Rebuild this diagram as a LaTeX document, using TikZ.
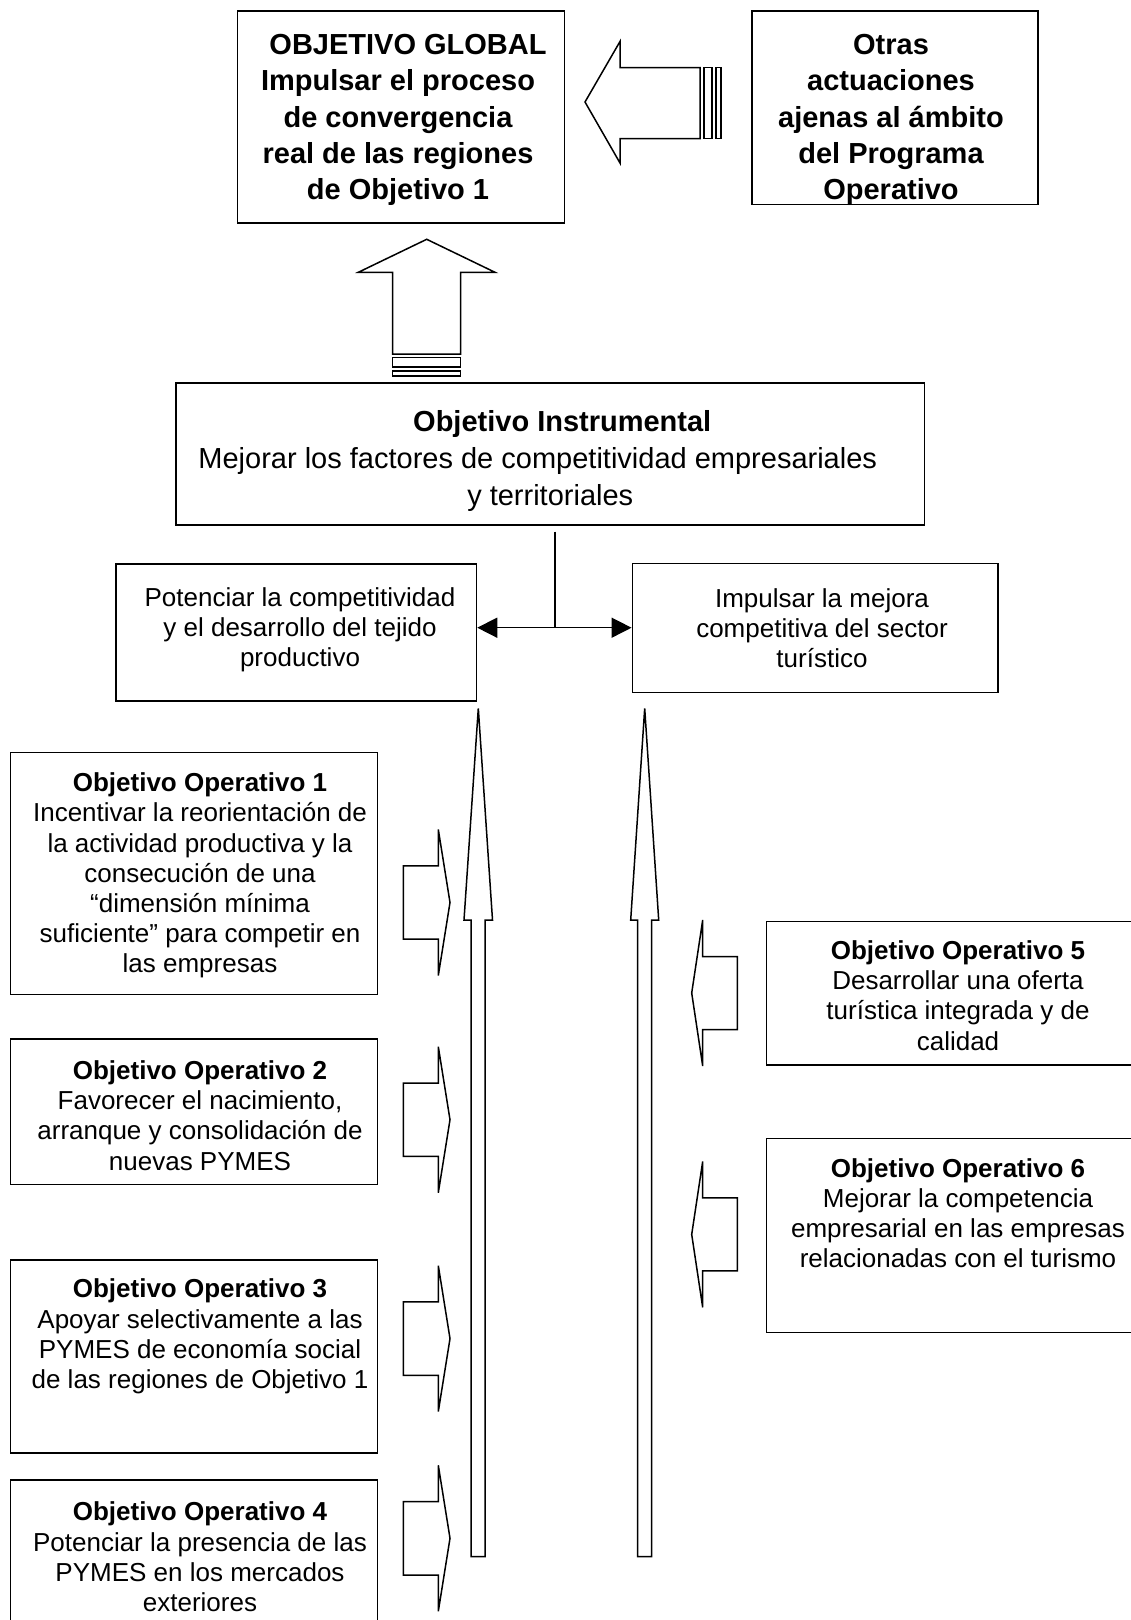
\documentclass[tikz,border=0pt]{standalone}
\usepackage{fontspec}
\setmainfont{Liberation Sans}
\usetikzlibrary{arrows.meta}
\begin{document}
\begin{tikzpicture}[x=1pt,y=-1pt,
  box/.style={draw, line width=1.5pt, inner sep=0pt},
  txt/.style={inner sep=0pt, align=center, font=\fontsize{26}{30.2}\selectfont},
  bigtxt/.style={inner sep=0pt, align=center, font=\fontsize{29}{37}\selectfont},
  boldbig/.style={inner sep=0pt, align=center, font=\fontsize{29}{36.2}\selectfont\bfseries},
  blockarrow/.style={draw, line width=1.5pt},
  hubarrow/.style={-{Triangle[length=20pt,width=20pt]}, line width=1.5pt},
  link/.style={line width=1.5pt},
  rblock/.pic={\draw[blockarrow] (-46.7,-36.7) -- (-11.7,-36.7) -- (-11.7,-73) -- (0,0) -- (-11.7,73) -- (-11.7,36.7) -- (-46.7,36.7) -- cycle;},
  lblock/.pic={\draw[blockarrow] (45.6,-36.5) -- (11,-36.5) -- (11,-73) -- (0,0) -- (11,73) -- (11,36.5) -- (45.6,36.5) -- cycle;}
]
\useasboundingbox (0,0) rectangle (1131,1620);
\fill[white] (0,0) rectangle (1131,1620);
\clip (0,0) rectangle (1131,1620);

% boxes
\node[box, minimum width=327pt, minimum height=212pt] (og) at (401,117) {};
\node[box, minimum width=286pt, minimum height=193.5pt] (otras) at (895,107.75) {};
\node[box, minimum width=748.5pt, minimum height=142pt] (inst) at (550.25,454) {};
\node[box, minimum width=360.5pt, minimum height=137pt] (pot) at (296.25,632.5) {};
\node[box, minimum width=365.7pt, minimum height=129.2pt] (imp) at (815.15,627.9) {};
\node[box, minimum width=367.2pt, minimum height=242.2pt] (op1) at (193.9,873.6) {};
\node[box, minimum width=367.2pt, minimum height=145.7pt] (op2) at (193.9,1111.85) {};
\node[box, minimum width=367.2pt, minimum height=193pt] (op3) at (193.9,1356.5) {};
\node[box, minimum width=367.2pt, minimum height=180pt] (op4) at (193.9,1570) {};
\node[box, minimum width=383.3pt, minimum height=143.3pt] (op5) at (958.35,993.35) {};
\node[box, minimum width=383.3pt, minimum height=194pt] (op6) at (958.35,1235.3) {};

% texts
\node[boldbig] (ogt) at (398,120) {\hspace*{20pt}OBJETIVO GLOBAL\\Impulsar el proceso\\de convergencia\\real de las regiones\\de Objetivo 1};
\node[boldbig] (otrast) at (891,120) {Otras\\actuaciones\\ajenas al ámbito\\del Programa\\Operativo};
\node[bigtxt] (instt) at (550.25,461) {\hspace*{24pt}\textbf{Objetivo Instrumental}\\Mejorar los factores de competitividad empresariales\rule{25pt}{0pt}\\y territoriales};
\node[txt] (pott) at (300,629.5) {Potenciar la competitividad\\y el desarrollo del tejido\\productivo};
\node[txt] (impt) at (822,628) {Impulsar la mejora\\competitiva del sector\\turístico};
\node[txt] (op1t) at (200,875.5) {\textbf{Objetivo Operativo 1}\\Incentivar la reorientación de\\la actividad productiva y la\\consecución de una\\“dimensión mínima\\suficiente” para competir en\\las empresas};
\node[txt] (op2t) at (200,1115.5) {\textbf{Objetivo Operativo 2}\\Favorecer el nacimiento,\\arranque y consolidación de\\nuevas PYMES};
\node[txt] (op3t) at (200,1336.5) {\textbf{Objetivo Operativo 3}\\Apoyar selectivamente a las\\PYMES de economía social\\de las regiones de Objetivo 1};
\node[txt] (op4t) at (200,1556.8) {\textbf{Objetivo Operativo 4}\\Potenciar la presencia de las\\PYMES en los mercados\\exteriores};
\node[txt] (op5t) at (958,995.5) {\textbf{Objetivo Operativo 5}\\Desarrollar una oferta\\turística integrada y de\\calidad};
\node[txt] (op6t) at (958,1213) {\textbf{Objetivo Operativo 6}\\Mejorar la competencia\\empresarial en las empresas\\relacionadas con el turismo};

% big left arrow from "Otras" to global objective
\draw[blockarrow] (700,67.5) -- (620,67.5) -- (620,41.5) -- (585,102) -- (620,163) -- (620,138.5) -- (700,138.5) -- cycle;
\draw[blockarrow] (704,67.5) rectangle (712,138.5);
\draw[blockarrow] (716,67.5) rectangle (721,138.5);

% big up arrow from instrumental to global objective
\draw[blockarrow] (392.7,354) -- (392.7,272.3) -- (358.3,272.3) -- (426.7,239.3) -- (495,272.3) -- (460.7,272.3) -- (460.7,354) -- cycle;
\draw[blockarrow] (392.7,357.7) rectangle (460.7,367);
\draw[blockarrow] (392.7,371) rectangle (460.7,376);

% split connector
\coordinate (stem) at (555,531.7);
\coordinate (hub) at (555,627.7);
\draw[link] (stem) -- (hub);
\draw[hubarrow] (hub) -- (pot.east |- hub);
\draw[hubarrow] (hub) -- (imp.west |- hub);

% tall thin arrows
\draw[blockarrow] (471,1556.7) -- (471,920) -- (464,920) -- (478.3,708.3) -- (492.5,920) -- (485,920) -- (485,1556.7) -- cycle;
\draw[blockarrow] (637.7,1556.7) -- (637.7,920) -- (630.7,920) -- (644.7,708.3) -- (658.7,920) -- (651.7,920) -- (651.7,1556.7) -- cycle;

% small block arrows
\pic at (450,902.5) {rblock};
\pic at (450,1119.7) {rblock};
\pic at (450,1338.6) {rblock};
\pic at (450,1538.3) {rblock};
\pic at (691.7,993) {lblock};
\pic at (691.7,1234.4) {lblock};
\end{tikzpicture}
\end{document}
